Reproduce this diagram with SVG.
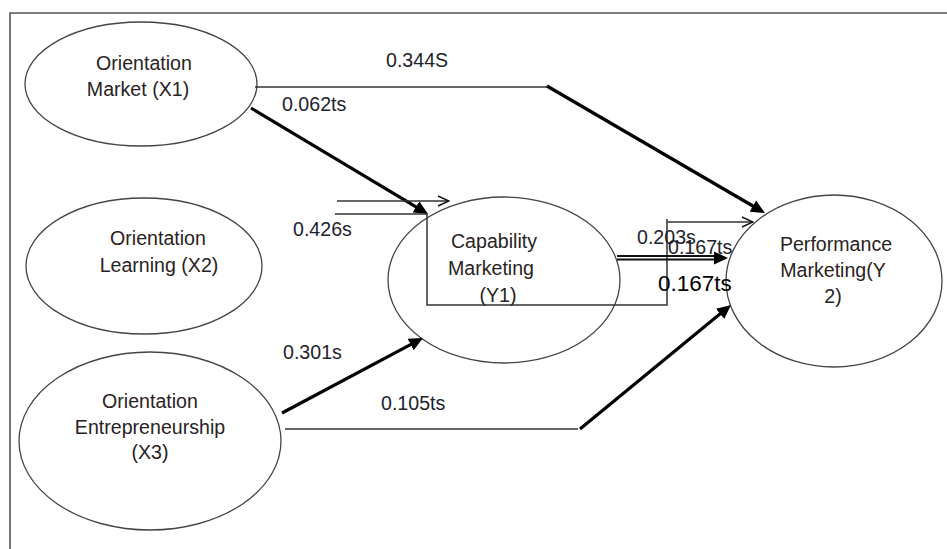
<svg xmlns="http://www.w3.org/2000/svg" width="947" height="549" viewBox="0 0 947 549">
<defs>
<marker id="ah" markerUnits="userSpaceOnUse" markerWidth="16" markerHeight="14" viewBox="0 0 16 14" refX="2" refY="7" orient="auto"><path d="M0,0.5 L14,7 L0,13.5 z" fill="#000"/></marker>
<marker id="oa" markerUnits="userSpaceOnUse" markerWidth="13" markerHeight="13" viewBox="0 0 13 13" refX="12" refY="6.5" orient="auto"><path d="M1,1.5 L12,6.5 L1,11.5" fill="none" stroke="#111" stroke-width="1.4"/></marker>
</defs>
<style>
.bg{fill:#fff}
.frame{fill:none;stroke:#555;stroke-width:1.6}
.node ellipse{fill:#fff;stroke:#444;stroke-width:1.3}
.node text{font-family:"Liberation Sans",Arial,sans-serif;font-size:19.6px;fill:#2a2222;text-anchor:middle}
.thin{fill:none;stroke:#333;stroke-width:1.5}
.thick{fill:none;stroke:#000;stroke-width:3.2}
.dbl{fill:none;stroke:#111;stroke-width:1.8}
.lbl{font-family:"Liberation Sans",Arial,sans-serif;font-size:19.6px;fill:#22222e}
.big{font-family:"Liberation Sans",Arial,sans-serif;font-size:22.5px;fill:#000}
</style>
<rect class="bg" x="0" y="0" width="947" height="549"/>
<path class="frame" d="M10,549 V13 H947"/>

<g id="X1" class="node">
<ellipse cx="141" cy="84" rx="116" ry="62"/>
<text x="144" y="70">Orientation</text>
<text x="138" y="96">Market (X1)</text>
</g>
<g id="X2" class="node">
<ellipse cx="144" cy="266" rx="118" ry="68"/>
<text x="158" y="245">Orientation</text>
<text x="159" y="272">Learning (X2)</text>
</g>
<g id="X3" class="node">
<ellipse cx="150" cy="441" rx="131" ry="89"/>
<text x="150" y="408">Orientation</text>
<text x="150" y="434">Entrepreneurship</text>
<text x="150" y="459">(X3)</text>
</g>
<g id="Y1" class="node">
<ellipse cx="504" cy="280" rx="116" ry="83"/>
<text x="494" y="248">Capability</text>
<text x="491" y="275">Marketing</text>
<text x="498" y="302">(Y1)</text>
</g>
<g id="Y2" class="node">
<ellipse cx="834" cy="281" rx="108" ry="86"/>
<text x="836" y="251">Performance</text>
<text x="833" y="277">Marketing(Y</text>
<text x="833" y="303">2)</text>
</g>

<g id="connectors">
<path class="thin" d="M255,87 H547"/>
<line class="thick" x1="547" y1="86" x2="754.6" y2="207" marker-end="url(#ah)"/>
<line class="thick" x1="251" y1="108" x2="417.7" y2="207.8" marker-end="url(#ah)"/>
<line class="thin" x1="337" y1="201" x2="449" y2="201" marker-end="url(#oa)"/>
<path class="thin" d="M335,214 H427 V305 H667 V219"/>
<line class="thin" x1="667" y1="222" x2="753" y2="222" marker-end="url(#oa)"/>
<line class="dbl" x1="617" y1="256" x2="716" y2="256"/>
<line class="dbl" x1="617" y1="259.5" x2="716" y2="259.5"/>
<line x1="714" y1="258" x2="716" y2="258" stroke="none" marker-end="url(#ah)"/>
<line class="thick" x1="282" y1="413" x2="412.4" y2="343.6" marker-end="url(#ah)"/>
<path class="thin" d="M285,429 H578"/>
<line class="thick" x1="580" y1="429" x2="721.7" y2="312.6" marker-end="url(#ah)"/>
</g>

<g id="labels">
<text class="lbl" x="386" y="67">0.344S</text>
<text class="lbl" x="282" y="111">0.062ts</text>
<text class="lbl" x="293" y="236">0.426s</text>
<text class="lbl" x="637" y="244">0.203s</text>
<text class="lbl" x="668" y="254">0.167ts</text>
<text class="big" x="658" y="291">0.167ts</text>
<text class="lbl" x="283" y="359">0.301s</text>
<text class="lbl" x="381" y="410">0.105ts</text>
</g>
</svg>
